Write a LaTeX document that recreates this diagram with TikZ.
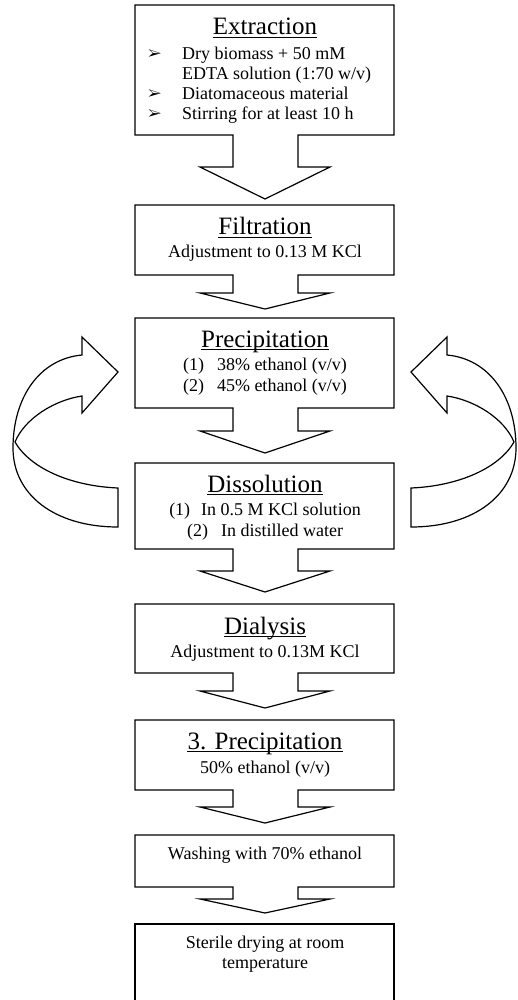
\documentclass[tikz,border=0pt]{standalone}
\usepackage{fontspec}
\setmainfont{Liberation Serif}
\usepackage{pifont}
\tikzset{
  outl/.style={draw=black, line width=1.2pt, line join=miter, fill=white},
  txt/.style={inner sep=0pt, anchor=base, font=\fontsize{18}{20.5}\selectfont},
  ttl/.style={inner sep=0pt, anchor=base, font=\fontsize{25}{28}\selectfont},
  ltxt/.style={inner sep=0pt, anchor=base west, font=\fontsize{18}{20.5}\selectfont},
  bul/.style={inner sep=0pt, anchor=base west, font=\fontsize{14.5}{16}\selectfont},
  uline/.style={line width=1.1pt}
}
\newcommand\stagebox[4]{%
  \draw[outl] (135,#1) -- (394,#1) -- (394,#2) -- (298,#2) -- (298,#3) -- (330,#3)
    -- (265,#4) -- (200,#3) -- (233,#3) -- (233,#2) -- (135,#2) -- cycle;}
\newcommand\ulttl[3]{% name, y, text
  \node[ttl] (#1) at (265,#2) {#3};
  \draw[uline] ([yshift=-2.6pt]#1.base west) -- ([yshift=-2.6pt]#1.base east);}
\newcommand\loopar{%
  \draw[outl] (118,488) -- (118,527)
    .. controls (55,527) and (13,495) .. (13,448)
    .. controls (13,398) and (39,359) .. (82,355)
    -- (82,337) -- (118,372) -- (82,413) -- (82,396)
    .. controls (55,400) and (25,418) .. (15,442)
    .. controls (30,468) and (70,486) .. (118,488) -- cycle;}
\begin{document}
\begin{tikzpicture}[x=1pt,y=-1pt]
\useasboundingbox (0,0) rectangle (517,1000);
\clip (0,0) rectangle (517,1000);
\fill[white] (0,0) rectangle (517,1000);

% side loop arrows
\loopar
\begin{scope}[xshift=529pt, xscale=-1]
  \loopar
\end{scope}

% boxes with block arrows
\stagebox{5}{135}{167}{199}
\stagebox{205}{275}{293}{309}
\stagebox{318}{408}{431}{453}
\stagebox{463}{549}{571}{592}
\stagebox{604}{673}{691}{708}
\stagebox{720}{790}{807}{823}
\stagebox{835}{887}{899}{913}
\draw[line width=1.2pt] (135,1030) -- (135,924) -- (394,924) -- (394,1030);

% Extraction
\ulttl{t1}{35}{Extraction}
\node[bul] (b1) at (148,59) {\ding{226}};
\node[bul] (b2) at (148,99) {\ding{226}};
\node[bul] (b3) at (148,119) {\ding{226}};
\node[ltxt] (e1) at (182,60) {Dry biomass + 50 mM};
\node[ltxt] (e2) at (182,80) {EDTA solution (1:70 w/v)};
\node[ltxt] (e3) at (182,100) {Diatomaceous material};
\node[ltxt] (e4) at (182,120) {Stirring for at least 10 h};

% Filtration
\ulttl{t2}{235}{Filtration}
\node[txt] (f1) at (265,258) {Adjustment to 0.13 M KCl};

% Precipitation
\ulttl{t3}{347}{Precipitation}
\node[txt] (p1) at (265,370) {(1)\hskip 13pt 38\% ethanol (v/v)};
\node[txt] (p2) at (265,391) {(2)\hskip 13pt 45\% ethanol (v/v)};

% Dissolution
\ulttl{t4}{492}{Dissolution}
\node[txt] (d1) at (265,515) {(1)\hskip 11pt In 0.5 M KCl solution};
\node[txt] (d2) at (265,536) {(2)\hskip 13pt In distilled water};

% Dialysis
\ulttl{t5}{634}{Dialysis}
\node[txt] (y1) at (265,657) {Adjustment to 0.13M KCl};

% 3. Precipitation
\ulttl{t6}{749}{3. Precipitation}
\node[txt] (q1) at (265,773) {50\% ethanol (v/v)};

% Washing
\node[txt] (w1) at (265,859) {Washing with 70\% ethanol};

% Sterile drying
\node[txt] (s1) at (265,948) {Sterile drying at room};
\node[txt] (s2) at (265,968) {temperature};
\end{tikzpicture}
\end{document}
